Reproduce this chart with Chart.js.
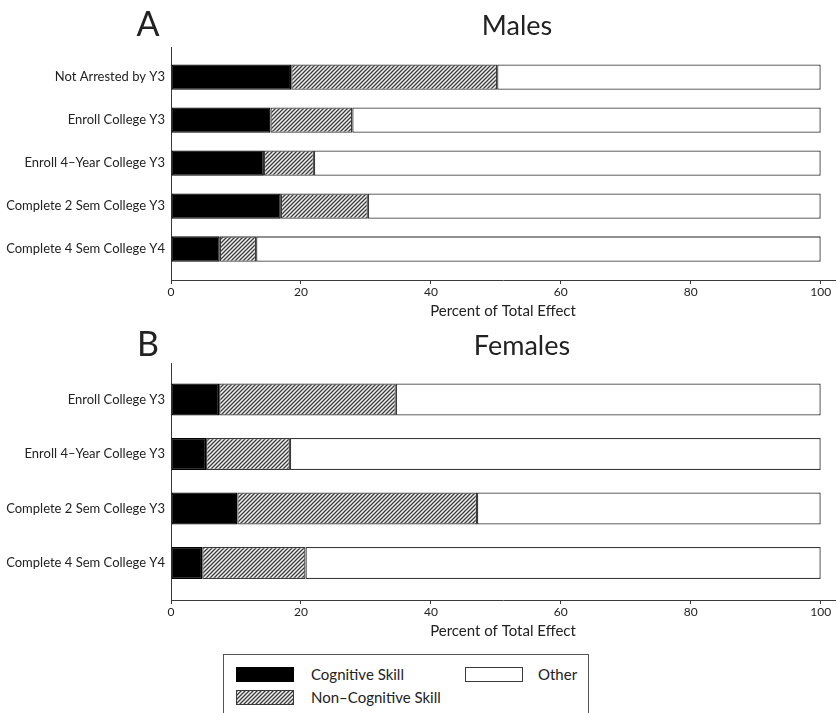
<!DOCTYPE html>
<html>
<head>
<meta charset="utf-8">
<script src="https://cdn.jsdelivr.net/npm/chart.js@4/dist/chart.umd.min.js"></script>
<style>
  html, body { margin: 0; padding: 0; background: #fff; }
  body { width: 837px; height: 713px; position: relative; overflow: hidden; font-family: Lato, sans-serif; color: #222; }
  .panel { position: absolute; left: 0; width: 837px; height: 320px; }
  #panelA { top: 0; }
  #panelB { top: 320px; }
  #legend { position: absolute; left: 223px; top: 654px; width: 366px; height: 80px; border: 1px solid #555; box-sizing: border-box; }
  .sw { position: absolute; width: 58px; height: 15px; box-sizing: border-box; }
  .lab { position: absolute; font-size: 15px; line-height: 15px; color: #222; white-space: nowrap; }
</style>
</head>
<body>
<div class="panel" id="panelA"><canvas id="chartA" width="837" height="320"></canvas></div>
<div class="panel" id="panelB"><canvas id="chartB" width="837" height="320"></canvas></div>
<div id="legend"></div>
<script>
// ---- data ----
const seriesNames = ['Cognitive Skill', 'Non–Cognitive Skill', 'Other'];
const xTickValues = [0, 20, 40, 60, 80, 100];
const axisTitle = 'Percent of Total Effect';

const malesCategories = ['Not Arrested by Y3', 'Enroll College Y3', 'Enroll 4–Year College Y3', 'Complete 2 Sem College Y3', 'Complete 4 Sem College Y4'];
const malesCognitive = [18.5, 15.3, 14.3, 16.9, 7.5];
const malesNonCognitive = [31.7, 12.6, 7.7, 13.4, 5.6];
const malesOther = [49.8, 72.1, 78.0, 69.7, 86.9];

const femalesCategories = ['Enroll College Y3', 'Enroll 4–Year College Y3', 'Complete 2 Sem College Y3', 'Complete 4 Sem College Y4'];
const femalesCognitive = [7.4, 5.4, 10.2, 4.8];
const femalesNonCognitive = [27.2, 12.9, 36.9, 15.9];
const femalesOther = [65.4, 81.7, 52.9, 79.3];

// ---- hatch fill for the non-cognitive segments ----
function makeHatch() {
  const s = 4;
  const c = document.createElement('canvas');
  c.width = s; c.height = s;
  const g = c.getContext('2d');
  g.fillStyle = '#f2f2f2';
  g.fillRect(0, 0, s, s);
  g.strokeStyle = '#3c3c3c';
  g.lineWidth = 1.3;
  g.beginPath();
  g.moveTo(-1, s + 1); g.lineTo(s + 1, -1);
  g.moveTo(-1, 1); g.lineTo(1, -1);
  g.moveTo(s - 1, s + 1); g.lineTo(s + 1, s - 1);
  g.stroke();
  return c;
}
const hatchCanvas = makeHatch();
const hatch = document.getElementById('chartA').getContext('2d').createPattern(hatchCanvas, 'repeat');

const FONT = 'Lato, "Open Sans", sans-serif';
const INK = '#222';
const EDGE = '#3a3a3a';

// panel letter and title drawn above the plot
const panelTitles = {
  id: 'panelTitles',
  afterDraw(chart, args, opts) {
    const { ctx, chartArea } = chart;
    ctx.save();
    ctx.fillStyle = INK;
    ctx.textBaseline = 'middle';
    ctx.textAlign = 'center';
    ctx.font = '34px ' + FONT;
    ctx.fillText(opts.letter, chartArea.left + opts.letterDx, opts.y);
    ctx.font = '27px ' + FONT;
    ctx.fillText(opts.title, chartArea.left + opts.titleDx, opts.y + 1);
    ctx.restore();
  }
};

function toPoints(values) {
  return values.map((v, i) => ({ x: v, y: i }));
}

function makeChart(canvasId, letter, title, categories, cog, nonCog, other, yMin, yMax, topPad, titleDx) {
  const common = { stack: 'all', borderWidth: 1.3, borderSkipped: false, barPercentage: 0.59, categoryPercentage: 1 };
  return new Chart(document.getElementById(canvasId), {
    type: 'bar',
    plugins: [panelTitles],
    data: {
      datasets: [
        Object.assign({ label: seriesNames[0], data: toPoints(cog), backgroundColor: '#000', borderColor: '#000' }, common),
        Object.assign({ label: seriesNames[1], data: toPoints(nonCog), backgroundColor: hatch, borderColor: EDGE }, common),
        Object.assign({ label: seriesNames[2], data: toPoints(other), backgroundColor: '#fff', borderColor: EDGE }, common)
      ]
    },
    options: {
      indexAxis: 'y',
      responsive: false,
      animation: false,
      layout: { padding: { top: topPad, right: 2, left: 0, bottom: 0 } },
      plugins: {
        legend: { display: false },
        tooltip: { enabled: false },
        panelTitles: { letter: letter, title: title, letterDx: -23, titleDx: titleDx, y: 25 }
      },
      scales: {
        x: {
          type: 'linear',
          stacked: true,
          min: 0,
          max: 102.2,
          afterBuildTicks(scale) { scale.ticks = xTickValues.map(v => ({ value: v })); },
          afterFit(scale) { scale.height = 40; },
          grid: { display: true, drawOnChartArea: false, drawTicks: true, tickLength: 4, color: EDGE, lineWidth: 1 },
          border: { display: true, color: EDGE, width: 1 },
          ticks: { color: INK, font: { family: FONT, size: 12 }, padding: 1, autoSkip: false, maxRotation: 0 },
          title: { display: true, text: axisTitle, color: INK, font: { family: FONT, size: 15 }, padding: { top: 0, bottom: 0 } }
        },
        y: {
          type: 'linear',
          reverse: true,
          offset: false,
          min: yMin,
          max: yMax,
          afterBuildTicks(scale) { scale.ticks = categories.map((c, i) => ({ value: i })); },
          afterFit(scale) { scale.width = 171; },
          grid: { display: false, drawTicks: false, offset: false },
          border: { display: true, color: EDGE, width: 1 },
          ticks: { color: INK, font: { family: FONT, size: 13 }, padding: 6, autoSkip: false, callback: (v) => categories[v] }
        }
      }
    }
  });
}

makeChart('chartA', 'A', 'Males', malesCategories, malesCognitive, malesNonCognitive, malesOther, -0.7, 4.72, 47, 346);
makeChart('chartB', 'B', 'Females', femalesCategories, femalesCognitive, femalesNonCognitive, femalesOther, -0.67, 3.68, 43, 351);

// ---- legend ----
(function buildLegend() {
  const box = document.getElementById('legend');
  const hatchUrl = hatchCanvas.toDataURL();
  const items = [
    { name: seriesNames[0], left: 12, top: 12, style: 'background:#000;border:1px solid #000;' },
    { name: seriesNames[1], left: 12, top: 35, style: 'background-image:url(' + hatchUrl + ');border:1px solid ' + EDGE + ';' },
    { name: seriesNames[2], left: 241, top: 12, style: 'background:#fff;border:1.3px solid ' + EDGE + ';' }
  ];
  items.forEach(it => {
    const sw = document.createElement('div');
    sw.className = 'sw';
    sw.style.cssText = 'left:' + it.left + 'px;top:' + it.top + 'px;' + it.style;
    box.appendChild(sw);
    const lab = document.createElement('div');
    lab.className = 'lab';
    lab.textContent = it.name;
    lab.style.left = (it.left + (it.name === 'Other' ? 73 : 75)) + 'px';
    lab.style.top = it.top + 'px';
    box.appendChild(lab);
  });
})();
</script>
</body>
</html>
